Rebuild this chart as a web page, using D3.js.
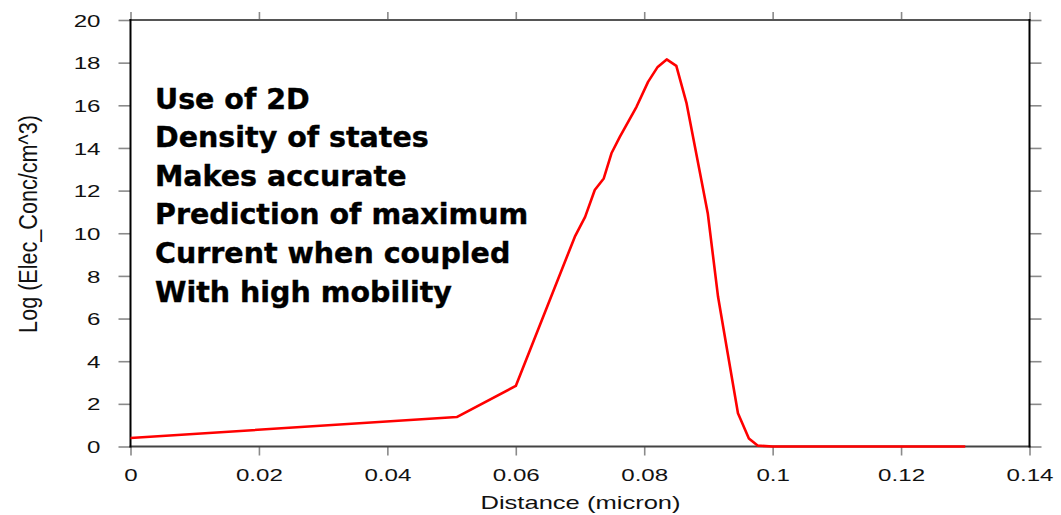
<!DOCTYPE html>
<html>
<head>
<meta charset="utf-8">
<script src="https://cdn.jsdelivr.net/npm/d3@7"></script>
<style>
  html, body { margin: 0; padding: 0; background: #fff; }
  svg { display: block; }
</style>
</head>
<body>
<svg id="chart" width="1061" height="515"></svg>
<script>
// Electron concentration profile along the channel (log scale values)
const distance = [0, 0.0508, 0.0600, 0.0692, 0.0708, 0.0723, 0.0737, 0.0749, 0.0762, 0.0788,
                  0.0806, 0.0821, 0.0835, 0.0850, 0.0866, 0.0889, 0.0899, 0.0915, 0.0930,
                  0.0946, 0.0963, 0.0977, 0.1000, 0.1300];
const logConc = [0.40, 1.38, 2.84, 9.84, 10.77, 12.03, 12.57, 13.75, 14.52, 15.93,
                 17.10, 17.80, 18.15, 17.85, 16.09, 12.50, 10.93, 7.02, 4.37,
                 1.56, 0.38, 0.04, 0, 0];

const xTicks = [0, 0.02, 0.04, 0.06, 0.08, 0.1, 0.12, 0.14];
const xTickLabels = ["0", "0.02", "0.04", "0.06", "0.08", "0.1", "0.12", "0.14"];
const yTicks = [0, 2, 4, 6, 8, 10, 12, 14, 16, 18, 20];

const annotationLines = [
  "Use of 2D",
  "Density of states",
  "Makes accurate",
  "Prediction of maximum",
  "Current when coupled",
  "With high mobility"
];

const xTitle = "Distance (micron)";
const yTitle = "Log (Elec_Conc/cm^3)";

const svg = d3.select("#chart");
const plotLeft = 130.5, plotRight = 1029.5, plotTop = 20, plotBottom = 446.5;

const x = d3.scaleLinear().domain([0, 0.14]).range([plotLeft, plotRight]);
const y = d3.scaleLinear().domain([0, 20]).range([plotBottom, plotTop]);

const stretch = 1.42;       // wide glyph look of the axis lettering
const tickColor = "#8a8a8a";

// Axes with outward ticks on all four sides
const gBottom = svg.append("g").attr("transform", `translate(0,${plotBottom})`)
  .call(d3.axisBottom(x).tickValues(xTicks).tickSize(9).tickFormat((d, i) => xTickLabels[i]));
const gTop = svg.append("g").attr("transform", `translate(0,${plotTop})`)
  .call(d3.axisTop(x).tickValues(xTicks).tickSize(8).tickFormat(""));
const gLeft = svg.append("g").attr("transform", `translate(${plotLeft},0)`)
  .call(d3.axisLeft(y).tickValues(yTicks).tickSize(12).tickFormat(d3.format("d")));
const gRight = svg.append("g").attr("transform", `translate(${plotRight},0)`)
  .call(d3.axisRight(y).tickValues(yTicks).tickSize(12).tickFormat(""));

[gBottom, gTop, gLeft, gRight].forEach(g => {
  g.select(".domain").remove();
  g.selectAll(".tick line").attr("stroke", tickColor).attr("stroke-width", 1.6);
});

gBottom.selectAll(".tick text")
  .attr("y", 0).attr("dy", null)
  .attr("transform", `translate(0,34.5) scale(${stretch},1)`)
  .attr("font-family", "'Liberation Sans', Arial, sans-serif")
  .attr("font-size", 17).attr("fill", "#111");

gLeft.selectAll(".tick text")
  .attr("x", 0).attr("dy", "0.36em")
  .attr("transform", `translate(-30,0) scale(${stretch},1)`)
  .attr("font-family", "'Liberation Sans', Arial, sans-serif")
  .attr("font-size", 17).attr("fill", "#111");

// Plot frame
svg.append("line").attr("x1", plotLeft - 1).attr("x2", plotRight + 1).attr("y1", plotTop).attr("y2", plotTop)
  .attr("stroke", "#555").attr("stroke-width", 2);
svg.append("line").attr("x1", plotLeft - 1).attr("x2", plotRight + 1).attr("y1", plotBottom).attr("y2", plotBottom)
  .attr("stroke", "#444").attr("stroke-width", 2);
svg.append("line").attr("x1", plotLeft).attr("x2", plotLeft).attr("y1", plotTop - 1).attr("y2", plotBottom + 1)
  .attr("stroke", "#000").attr("stroke-width", 2);
svg.append("line").attr("x1", plotRight).attr("x2", plotRight).attr("y1", plotTop - 1).attr("y2", plotBottom + 1)
  .attr("stroke", "#000").attr("stroke-width", 2);

// Concentration curve
const pts = distance.map((d, i) => [d, logConc[i]]);
svg.append("path")
  .datum(pts)
  .attr("fill", "none")
  .attr("stroke", "#ff0000")
  .attr("stroke-width", 2.6)
  .attr("stroke-linejoin", "round")
  .attr("d", d3.line().x(d => x(d[0])).y(d => y(d[1])));

// Axis titles
svg.append("text")
  .attr("transform", `translate(${(plotLeft + plotRight) / 2 + 0.5},509) scale(${stretch},1)`)
  .attr("text-anchor", "middle")
  .attr("font-family", "'Liberation Sans', Arial, sans-serif")
  .attr("font-size", 18).attr("fill", "#111")
  .text(xTitle);

svg.append("text")
  .attr("transform", `translate(37,224) rotate(-90) scale(1.2,${stretch})`)
  .attr("text-anchor", "middle")
  .attr("font-family", "'Liberation Sans', Arial, sans-serif")
  .attr("font-size", 18).attr("fill", "#111")
  .text(yTitle);

// Annotation block
const note = svg.append("g").attr("transform", "translate(155,108.5)");
note.selectAll("text")
  .data(annotationLines)
  .join("text")
  .attr("x", 0)
  .attr("y", (d, i) => i * 38.6)
  .attr("font-family", "'DejaVu Sans', Verdana, sans-serif")
  .attr("font-weight", "bold")
  .attr("font-size", 28.5)
  .attr("fill", "#000")
  .attr("stroke", "#000")
  .attr("stroke-width", 0.4)
  .text(d => d);
</script>
</body>
</html>
